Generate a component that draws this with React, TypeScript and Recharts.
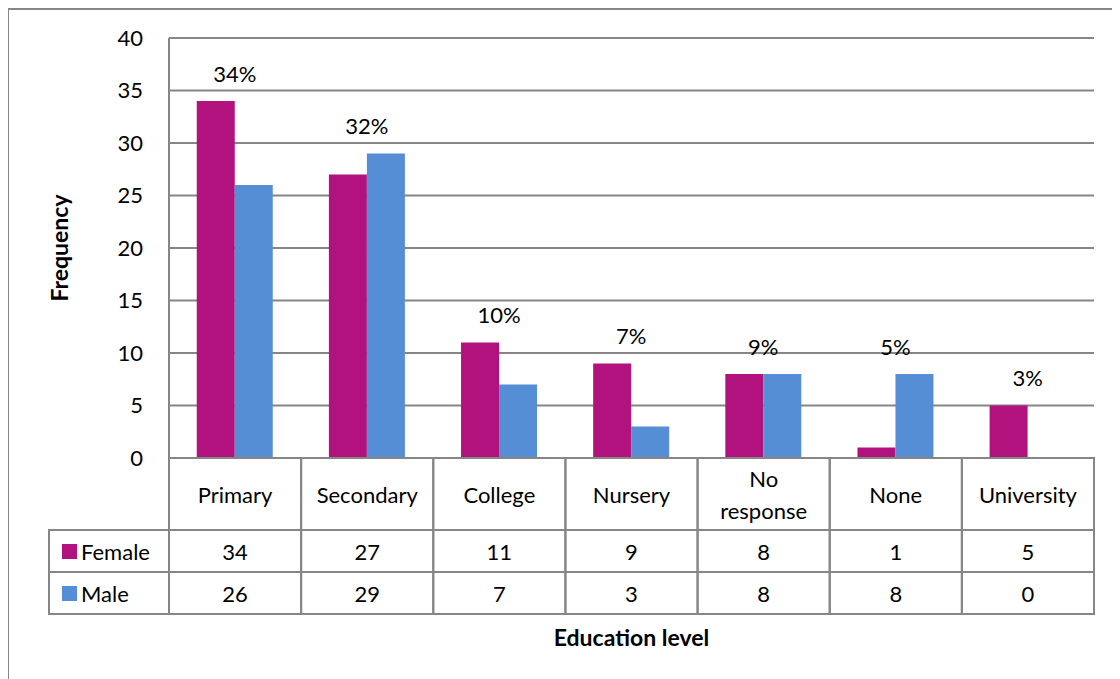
import React from "react";
import { BarChart, Bar, XAxis, YAxis, CartesianGrid, LabelList, Label } from "recharts";

const categories = ["Primary", "Secondary", "College", "Nursery", "No response", "None", "University"];
const female = [34, 27, 11, 9, 8, 1, 5];
const male = [26, 29, 7, 3, 8, 8, 0];
const shares = ["34%", "32%", "10%", "7%", "9%", "5%", "3%"];
const yTicks = [0, 5, 10, 15, 20, 25, 30, 35, 40];

const data = categories.map((name, i) => ({ name, female: female[i], male: male[i], share: shares[i] }));

const FEMALE = "#B1127E";
const MALE = "#558ED5";
const GRID = "#868686";
const FS = 22;

// plot frame inside the svg
const PLOT_LEFT = 161;
const PLOT_RIGHT = 1086;
const PLOT_BOTTOM = 450;
const BAND = (PLOT_RIGHT - PLOT_LEFT) / categories.length;
const HEAD_H = 72;
const ROW_H = 42;

const TableTick = (props: any) => {
  const { x, index, payload } = props;
  const left = x - BAND / 2;
  const r1 = PLOT_BOTTOM + HEAD_H;
  const r2 = r1 + ROW_H;
  const lines = String(payload.value) === "No response" ? ["No", "response"] : [String(payload.value)];
  return (
    <g>
      <rect x={left} y={PLOT_BOTTOM} width={BAND} height={HEAD_H + ROW_H * 2} fill="none" stroke={GRID} strokeWidth={2} />
      <line x1={left} x2={left + BAND} y1={r1} y2={r1} stroke={GRID} strokeWidth={2} />
      <line x1={left} x2={left + BAND} y1={r2} y2={r2} stroke={GRID} strokeWidth={2} />
      {lines.map((t, k) => (
        <text key={k} x={x} y={PLOT_BOTTOM + HEAD_H / 2 + (k - (lines.length - 1) / 2) * 32} textAnchor="middle" dominantBaseline="central" fontSize={FS} fill="#000">
          {t}
        </text>
      ))}
      <text x={x} y={r1 + ROW_H / 2} textAnchor="middle" dominantBaseline="central" fontSize={FS} fill="#000">
        {female[index]}
      </text>
      <text x={x} y={r2 + ROW_H / 2} textAnchor="middle" dominantBaseline="central" fontSize={FS} fill="#000">
        {male[index]}
      </text>
      {index === 0 && (
        <g>
          <rect x={41} y={r1} width={PLOT_LEFT - 41} height={ROW_H * 2} fill="none" stroke={GRID} strokeWidth={2} />
          <line x1={41} x2={PLOT_LEFT} y1={r2} y2={r2} stroke={GRID} strokeWidth={2} />
          <rect x={54} y={r1 + 14} width={15} height={15} fill={FEMALE} />
          <text x={73} y={r1 + ROW_H / 2} dominantBaseline="central" fontSize={FS} fill="#000">Female</text>
          <rect x={54} y={r2 + 14} width={15} height={15} fill={MALE} />
          <text x={73} y={r2 + ROW_H / 2} dominantBaseline="central" fontSize={FS} fill="#000">Male</text>
        </g>
      )}
    </g>
  );
};

const ShareLabel = (props: any) => {
  const { x, y, width, height, index } = props;
  const v = female[index];
  if (!v) return null;
  const unit = height / v;
  const base = y + height;
  const top = base - Math.max(female[index], male[index]) * unit;
  return (
    <text x={x + width} y={top - 28} textAnchor="middle" dominantBaseline="central" fontSize={FS} fill="#000">
      {shares[index]}
    </text>
  );
};

export default function App() {
  return (
    <div
      style={{
        position: "relative",
        left: -1,
        width: 1130,
        height: 690,
        borderLeft: `2px solid ${GRID}`,
        borderTop: `2px solid ${GRID}`,
        fontFamily: "Lato, 'Open Sans', sans-serif",
        boxSizing: "border-box",
      }}
    >
      <BarChart
        width={1112}
        height={671}
        data={data}
        margin={{ top: 30, right: 26, bottom: 31, left: 40 }}
        barCategoryGap="21%"
        barGap={0}
        style={{ position: "absolute", left: -1, top: -2 }}
      >
        <CartesianGrid vertical={false} stroke={GRID} strokeWidth={2} />
        <XAxis
          dataKey="name"
          interval={0}
          height={190}
          axisLine={false}
          tickLine={false}
          tick={<TableTick />}
        >
          <Label value="Education level" position="insideBottom" offset={2} fontSize={23} fontWeight="bold" fill="#000" />
        </XAxis>
        <YAxis
          domain={[0, 40]}
          ticks={yTicks}
          width={121}
          tickLine={false}
          tickSize={6}
          tickMargin={20}
          axisLine={{ stroke: GRID, strokeWidth: 2 }}
          tick={{ fontSize: FS, fill: "#000" }}
        >
          <Label value="Frequency" angle={-90} position="insideLeft" offset={12} fontSize={23} fontWeight="bold" fill="#000" style={{ textAnchor: "middle" }} />
        </YAxis>
        <Bar dataKey="female" fill={FEMALE} isAnimationActive={false}>
          <LabelList dataKey="share" content={<ShareLabel />} />
        </Bar>
        <Bar dataKey="male" fill={MALE} isAnimationActive={false} />
      </BarChart>
    </div>
  );
}
